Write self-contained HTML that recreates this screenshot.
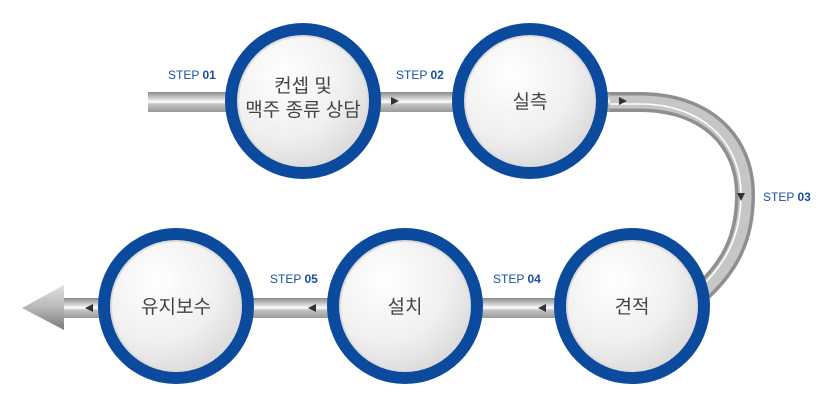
<!DOCTYPE html>
<html><head><meta charset="utf-8"><style>
html,body{margin:0;padding:0;background:#fff;}
svg{display:block;}
text{font-family:"Liberation Sans","Noto Sans CJK KR",sans-serif;}
</style></head><body>
<svg width="828" height="403" viewBox="0 0 828 403" xmlns="http://www.w3.org/2000/svg">
<defs>
<linearGradient id="pipe" x1="0" y1="0" x2="0" y2="1">
<stop offset="0" stop-color="#8a8a8a"/><stop offset="0.35" stop-color="#d8d8d8"/><stop offset="0.5" stop-color="#ffffff"/><stop offset="0.6" stop-color="#c4c4c4"/><stop offset="1" stop-color="#9a9a9a"/>
</linearGradient>
<radialGradient id="fill" cx="0.35" cy="0.3" r="0.8">
<stop offset="0" stop-color="#ffffff"/><stop offset="0.6" stop-color="#f0f0f0"/><stop offset="1" stop-color="#d8d8d8"/>
</radialGradient>
<linearGradient id="arr" x1="0" y1="0" x2="0" y2="1">
<stop offset="0" stop-color="#e0e0e0"/><stop offset="0.5" stop-color="#b8b8b8"/><stop offset="1" stop-color="#7a7a7a"/>
</linearGradient>
<g id="circ">
<circle r="78" fill="#0b4a9c"/>
<circle r="66" fill="#dcdcdc"/>
<circle r="64" fill="url(#fill)"/>
</g>
</defs>
<!-- top pipe -->
<rect x="148" y="92" width="470" height="20" fill="url(#pipe)"/>
<!-- curve -->
<path d="M610 102 H640 C705 102 745 140 745 195 C745 240 728 268 702 292" fill="none" stroke="#8f8f8f" stroke-width="20"/>
<path d="M610 102 H640 C705 102 745 140 745 195 C745 240 728 268 702 292" fill="none" stroke="#c6c6c6" stroke-width="13"/>
<path d="M610 104 H640 C702 104 741 142 741 195 C741 238 724 265 699 289" fill="none" stroke="#fff" stroke-width="1.5"/>
<!-- bottom pipe -->
<rect x="60" y="298" width="580" height="20" fill="url(#pipe)"/>
<!-- big left arrow -->
<polygon points="22,308 64,285 64,330" fill="url(#arr)"/>
<!-- small arrowheads -->
<polygon points="391,97 399,101 391,105" fill="#333"/>
<polygon points="619,97 627,101 619,105" fill="#333"/>
<polygon points="737,193 745,193 741,201" fill="#333"/>
<polygon points="538,308 546,304 546,312" fill="#333"/>
<polygon points="308,308 316,304 316,312" fill="#333"/>
<polygon points="85,308 93,304 93,312" fill="#333"/>
<!-- circles -->
<use href="#circ" x="303" y="101"/>
<use href="#circ" x="530" y="101"/>
<use href="#circ" x="632" y="306"/>
<use href="#circ" x="405" y="306"/>
<use href="#circ" x="176" y="306"/>
<!-- labels -->
<g font-size="19" fill="#444" text-anchor="middle">
<text x="303" y="92">컨셉 및</text>
<text x="303" y="116">맥주 종류 상담</text>
<text x="530" y="108">실측</text>
<text x="632" y="313">견적</text>
<text x="405" y="313">설치</text>
<text x="176" y="313">유지보수</text>
</g>
<g font-size="12" fill="#1a4f9c">
<text x="168" y="79">STEP <tspan font-weight="bold">01</tspan></text>
<text x="396" y="79">STEP <tspan font-weight="bold">02</tspan></text>
<text x="763" y="201">STEP <tspan font-weight="bold">03</tspan></text>
<text x="493" y="283">STEP <tspan font-weight="bold">04</tspan></text>
<text x="270" y="283">STEP <tspan font-weight="bold">05</tspan></text>
</g>
</svg>
</body></html>
